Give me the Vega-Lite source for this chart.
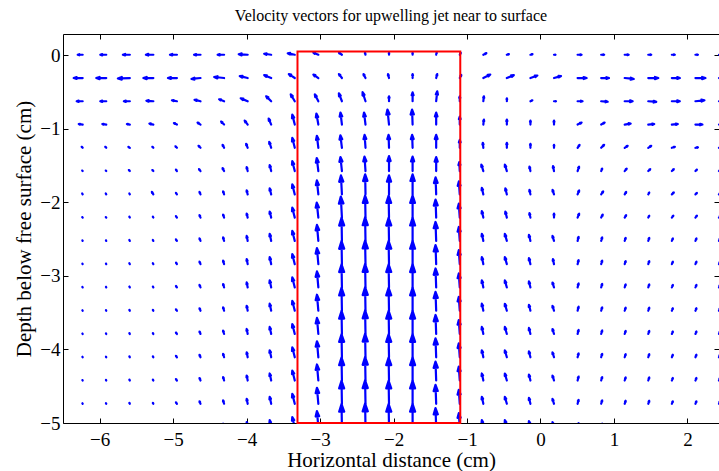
{
"$schema":"https://vega.github.io/schema/vega-lite/v6.json",
"width":656,"height":389,
"autosize":{"type":"none"},
"padding":{"left":63,"top":34,"right":0,"bottom":48},
"background":"white",
"title":{"text":"Velocity vectors for upwelling jet near to surface","font":"Liberation Serif","fontSize":16,"fontWeight":"normal","color":"black","offset":10,"anchor":"middle"},
"config":{"view":{"stroke":null},"axis":{"grid":false,"domainColor":"black","tickColor":"black","labelColor":"black","titleColor":"black","labelFont":"Liberation Serif","titleFont":"Liberation Serif","titleFontWeight":"normal","domainWidth":1,"tickWidth":1}},
"datasets":{
"box":[{"x1":-3.308,"x2":-1.092,"y1":-5,"y2":0.054}],
"vec":[
{"x":-6.232,"y":0.01,"dir":-90,"spd":0.05},{"x":-5.911,"y":0.01,"dir":-90,"spd":0.06},{"x":-5.59,"y":0.01,"dir":-90,"spd":0.07},{"x":-5.27,"y":0.01,"dir":-90,"spd":0.075},{"x":-4.949,"y":0.01,"dir":-90,"spd":0.07},{"x":-4.628,"y":0.01,"dir":-90,"spd":0.065},{"x":-4.307,"y":0.01,"dir":-90,"spd":0.065},{"x":-3.986,"y":0.01,"dir":-87,"spd":0.09},{"x":-3.666,"y":0.01,"dir":-82,"spd":0.071},{"x":-3.345,"y":0.01,"dir":-78,"spd":0.072},{"x":-3.024,"y":0.01,"dir":-68,"spd":0.054},{"x":-2.703,"y":0.01,"dir":-56,"spd":0.036},{"x":-2.382,"y":0.01,"dir":-14,"spd":0.021},{"x":-2.062,"y":0.01,"dir":0,"spd":0.02},{"x":-1.741,"y":0.01,"dir":0,"spd":0.02},{"x":-1.42,"y":0.01,"dir":14,"spd":0.021},{"x":-1.099,"y":0.01,"dir":27,"spd":0.022},{"x":-0.778,"y":0.01,"dir":63,"spd":0.034},{"x":-0.458,"y":0.01,"dir":76,"spd":0.021},{"x":-0.137,"y":0.01,"dir":76,"spd":0.021},{"x":0.184,"y":0.01,"dir":90,"spd":0.015},{"x":0.505,"y":0.01,"dir":90,"spd":0.04},{"x":0.826,"y":0.01,"dir":90,"spd":0.03},{"x":1.146,"y":0.01,"dir":90,"spd":0.04},{"x":1.467,"y":0.01,"dir":90,"spd":0.03},{"x":1.788,"y":0.01,"dir":90,"spd":0.03},{"x":2.109,"y":0.01,"dir":90,"spd":0.025},{"x":2.43,"y":0.01,"dir":90,"spd":0.03},
{"x":-6.232,"y":-0.307,"dir":-90,"spd":0.09},{"x":-5.911,"y":-0.307,"dir":-90,"spd":0.1},{"x":-5.59,"y":-0.307,"dir":-92,"spd":0.12},{"x":-5.27,"y":-0.307,"dir":-90,"spd":0.1},{"x":-4.949,"y":-0.307,"dir":-90,"spd":0.09},{"x":-4.628,"y":-0.307,"dir":-96,"spd":0.091},{"x":-4.307,"y":-0.307,"dir":-84,"spd":0.1},{"x":-3.986,"y":-0.307,"dir":-76,"spd":0.082},{"x":-3.666,"y":-0.307,"dir":-67,"spd":0.076},{"x":-3.345,"y":-0.307,"dir":-56,"spd":0.072},{"x":-3.024,"y":-0.307,"dir":-55,"spd":0.061},{"x":-2.703,"y":-0.307,"dir":-37,"spd":0.05},{"x":-2.382,"y":-0.307,"dir":-27,"spd":0.045},{"x":-2.062,"y":-0.307,"dir":-14,"spd":0.041},{"x":-1.741,"y":-0.307,"dir":0,"spd":0.04},{"x":-1.42,"y":-0.307,"dir":14,"spd":0.041},{"x":-1.099,"y":-0.307,"dir":27,"spd":0.034},{"x":-0.778,"y":-0.307,"dir":63,"spd":0.078},{"x":-0.458,"y":-0.307,"dir":67,"spd":0.076},{"x":-0.137,"y":-0.307,"dir":70,"spd":0.074},{"x":0.184,"y":-0.307,"dir":74,"spd":0.073},{"x":0.505,"y":-0.307,"dir":90,"spd":0.09},{"x":0.826,"y":-0.307,"dir":90,"spd":0.078},{"x":1.146,"y":-0.307,"dir":96,"spd":0.091},{"x":1.467,"y":-0.307,"dir":90,"spd":0.1},{"x":1.788,"y":-0.307,"dir":90,"spd":0.08},{"x":2.109,"y":-0.307,"dir":90,"spd":0.1},{"x":2.43,"y":-0.307,"dir":90,"spd":0.09},
{"x":-6.232,"y":-0.623,"dir":-90,"spd":0.06},{"x":-5.911,"y":-0.623,"dir":-90,"spd":0.06},{"x":-5.59,"y":-0.623,"dir":-90,"spd":0.06},{"x":-5.27,"y":-0.623,"dir":-86,"spd":0.07},{"x":-4.949,"y":-0.623,"dir":-79,"spd":0.051},{"x":-4.628,"y":-0.623,"dir":-76,"spd":0.062},{"x":-4.307,"y":-0.623,"dir":-68,"spd":0.054},{"x":-3.986,"y":-0.623,"dir":-67,"spd":0.076},{"x":-3.666,"y":-0.623,"dir":-45,"spd":0.071},{"x":-3.345,"y":-0.623,"dir":-30,"spd":0.081},{"x":-3.024,"y":-0.623,"dir":-27,"spd":0.078},{"x":-2.703,"y":-0.623,"dir":-21,"spd":0.085},{"x":-2.382,"y":-0.623,"dir":-18,"spd":0.095},{"x":-2.062,"y":-0.623,"dir":0,"spd":0.05},{"x":-1.741,"y":-0.623,"dir":0,"spd":0.09},{"x":-1.42,"y":-0.623,"dir":6,"spd":0.1},{"x":-1.099,"y":-0.623,"dir":0,"spd":0.05},{"x":-0.778,"y":-0.623,"dir":6,"spd":0.05},{"x":-0.458,"y":-0.623,"dir":0,"spd":0.03},{"x":-0.137,"y":-0.623,"dir":63,"spd":0.022},{"x":0.184,"y":-0.623,"dir":90,"spd":0.02},{"x":0.505,"y":-0.623,"dir":90,"spd":0.05},{"x":0.826,"y":-0.623,"dir":94,"spd":0.065},{"x":1.146,"y":-0.623,"dir":90,"spd":0.08},{"x":1.467,"y":-0.623,"dir":94,"spd":0.08},{"x":1.788,"y":-0.623,"dir":90,"spd":0.08},{"x":2.109,"y":-0.623,"dir":84,"spd":0.091},{"x":2.43,"y":-0.623,"dir":90,"spd":0.07},
{"x":-6.232,"y":-0.94,"dir":-83,"spd":0.04},{"x":-5.911,"y":-0.94,"dir":-83,"spd":0.04},{"x":-5.59,"y":-0.94,"dir":-80,"spd":0.03},{"x":-5.27,"y":-0.94,"dir":-76,"spd":0.041},{"x":-4.949,"y":-0.94,"dir":-63,"spd":0.034},{"x":-4.628,"y":-0.94,"dir":-56,"spd":0.036},{"x":-4.307,"y":-0.94,"dir":-45,"spd":0.042},{"x":-3.986,"y":-0.94,"dir":-37,"spd":0.05},{"x":-3.666,"y":-0.94,"dir":-23,"spd":0.065},{"x":-3.345,"y":-0.94,"dir":-14,"spd":0.103},{"x":-3.024,"y":-0.94,"dir":-10,"spd":0.112},{"x":-2.703,"y":-0.94,"dir":-7,"spd":0.121},{"x":-2.382,"y":-0.94,"dir":-7,"spd":0.121},{"x":-2.062,"y":-0.94,"dir":-6,"spd":0.151},{"x":-1.741,"y":-0.94,"dir":-2,"spd":0.15},{"x":-1.42,"y":-0.94,"dir":0,"spd":0.12},{"x":-1.099,"y":-0.94,"dir":0,"spd":0.08},{"x":-0.778,"y":-0.94,"dir":6,"spd":0.05},{"x":-0.458,"y":-0.94,"dir":0,"spd":0.05},{"x":-0.137,"y":-0.94,"dir":0,"spd":0.04},{"x":0.184,"y":-0.94,"dir":0,"spd":0.04},{"x":0.505,"y":-0.94,"dir":63,"spd":0.045},{"x":0.826,"y":-0.94,"dir":60,"spd":0.04},{"x":1.146,"y":-0.94,"dir":80,"spd":0.061},{"x":1.467,"y":-0.94,"dir":85,"spd":0.06},{"x":1.788,"y":-0.94,"dir":85,"spd":0.06},{"x":2.109,"y":-0.94,"dir":90,"spd":0.07},{"x":2.43,"y":-0.94,"dir":90,"spd":0.05},
{"x":-6.232,"y":-1.256,"dir":-45,"spd":0.014},{"x":-5.911,"y":-1.256,"dir":-45,"spd":0.014},{"x":-5.59,"y":-1.256,"dir":-56,"spd":0.018},{"x":-5.27,"y":-1.256,"dir":-45,"spd":0.014},{"x":-4.949,"y":-1.256,"dir":-45,"spd":0.021},{"x":-4.628,"y":-1.256,"dir":-45,"spd":0.028},{"x":-4.307,"y":-1.256,"dir":-27,"spd":0.034},{"x":-3.986,"y":-1.256,"dir":-21,"spd":0.043},{"x":-3.666,"y":-1.256,"dir":-18,"spd":0.063},{"x":-3.345,"y":-1.256,"dir":-14,"spd":0.103},{"x":-3.024,"y":-1.256,"dir":-7,"spd":0.121},{"x":-2.703,"y":-1.256,"dir":-7,"spd":0.126},{"x":-2.382,"y":-1.256,"dir":-4,"spd":0.13},{"x":-2.062,"y":-1.256,"dir":-2,"spd":0.13},{"x":-1.741,"y":-1.256,"dir":-2,"spd":0.13},{"x":-1.42,"y":-1.256,"dir":0,"spd":0.13},{"x":-1.099,"y":-1.256,"dir":0,"spd":0.08},{"x":-0.778,"y":-1.256,"dir":-6,"spd":0.05},{"x":-0.458,"y":-1.256,"dir":0,"spd":0.05},{"x":-0.137,"y":-1.256,"dir":0,"spd":0.04},{"x":0.184,"y":-1.256,"dir":0,"spd":0.03},{"x":0.505,"y":-1.256,"dir":34,"spd":0.036},{"x":0.826,"y":-1.256,"dir":45,"spd":0.042},{"x":1.146,"y":-1.256,"dir":56,"spd":0.036},{"x":1.467,"y":-1.256,"dir":56,"spd":0.036},{"x":1.788,"y":-1.256,"dir":72,"spd":0.032},{"x":2.109,"y":-1.256,"dir":79,"spd":0.026},{"x":2.43,"y":-1.256,"dir":72,"spd":0.032},
{"x":-6.232,"y":-1.573,"dir":-45,"spd":0.007},{"x":-5.911,"y":-1.573,"dir":-45,"spd":0.007},{"x":-5.59,"y":-1.573,"dir":-45,"spd":0.014},{"x":-5.27,"y":-1.573,"dir":-45,"spd":0.014},{"x":-4.949,"y":-1.573,"dir":-34,"spd":0.018},{"x":-4.628,"y":-1.573,"dir":-37,"spd":0.025},{"x":-4.307,"y":-1.573,"dir":-27,"spd":0.034},{"x":-3.986,"y":-1.573,"dir":-14,"spd":0.041},{"x":-3.666,"y":-1.573,"dir":-14,"spd":0.062},{"x":-3.345,"y":-1.573,"dir":-14,"spd":0.103},{"x":-3.024,"y":-1.573,"dir":-7,"spd":0.131},{"x":-2.703,"y":-1.573,"dir":-6,"spd":0.141},{"x":-2.382,"y":-1.573,"dir":-4,"spd":0.145},{"x":-2.062,"y":-1.573,"dir":0,"spd":0.15},{"x":-1.741,"y":-1.573,"dir":0,"spd":0.145},{"x":-1.42,"y":-1.573,"dir":0,"spd":0.14},{"x":-1.099,"y":-1.573,"dir":-3,"spd":0.09},{"x":-0.778,"y":-1.573,"dir":-17,"spd":0.068},{"x":-0.458,"y":-1.573,"dir":-17,"spd":0.068},{"x":-0.137,"y":-1.573,"dir":-12,"spd":0.046},{"x":0.184,"y":-1.573,"dir":-11,"spd":0.051},{"x":0.505,"y":-1.573,"dir":18,"spd":0.047},{"x":0.826,"y":-1.573,"dir":22,"spd":0.027},{"x":1.146,"y":-1.573,"dir":39,"spd":0.032},{"x":1.467,"y":-1.573,"dir":45,"spd":0.028},{"x":1.788,"y":-1.573,"dir":45,"spd":0.028},{"x":2.109,"y":-1.573,"dir":45,"spd":0.021},{"x":2.43,"y":-1.573,"dir":45,"spd":0.021},
{"x":-6.232,"y":-1.89,"dir":-27,"spd":0.011},{"x":-5.911,"y":-1.89,"dir":-27,"spd":0.011},{"x":-5.59,"y":-1.89,"dir":-27,"spd":0.011},{"x":-5.27,"y":-1.89,"dir":-31,"spd":0.029},{"x":-4.949,"y":-1.89,"dir":-34,"spd":0.018},{"x":-4.628,"y":-1.89,"dir":-22,"spd":0.027},{"x":-4.307,"y":-1.89,"dir":-18,"spd":0.032},{"x":-3.986,"y":-1.89,"dir":-14,"spd":0.041},{"x":-3.666,"y":-1.89,"dir":-14,"spd":0.062},{"x":-3.345,"y":-1.89,"dir":-14,"spd":0.103},{"x":-3.024,"y":-1.89,"dir":-6,"spd":0.141},{"x":-2.703,"y":-1.89,"dir":-3,"spd":0.19},{"x":-2.382,"y":-1.89,"dir":-1,"spd":0.2},{"x":-2.062,"y":-1.89,"dir":0,"spd":0.19},{"x":-1.741,"y":-1.89,"dir":0,"spd":0.2},{"x":-1.42,"y":-1.89,"dir":-2,"spd":0.17},{"x":-1.099,"y":-1.89,"dir":-4,"spd":0.13},{"x":-0.778,"y":-1.89,"dir":-13,"spd":0.067},{"x":-0.458,"y":-1.89,"dir":-14,"spd":0.062},{"x":-0.137,"y":-1.89,"dir":-12,"spd":0.046},{"x":0.184,"y":-1.89,"dir":-18,"spd":0.047},{"x":0.505,"y":-1.89,"dir":21,"spd":0.043},{"x":0.826,"y":-1.89,"dir":34,"spd":0.036},{"x":1.146,"y":-1.89,"dir":31,"spd":0.029},{"x":1.467,"y":-1.89,"dir":27,"spd":0.022},{"x":1.788,"y":-1.89,"dir":45,"spd":0.028},{"x":2.109,"y":-1.89,"dir":45,"spd":0.021},{"x":2.43,"y":-1.89,"dir":45,"spd":0.021},
{"x":-6.232,"y":-2.206,"dir":-45,"spd":0.007},{"x":-5.911,"y":-2.206,"dir":-45,"spd":0.007},{"x":-5.59,"y":-2.206,"dir":-27,"spd":0.011},{"x":-5.27,"y":-2.206,"dir":-27,"spd":0.011},{"x":-4.949,"y":-2.206,"dir":-34,"spd":0.018},{"x":-4.628,"y":-2.206,"dir":-22,"spd":0.027},{"x":-4.307,"y":-2.206,"dir":-18,"spd":0.032},{"x":-3.986,"y":-2.206,"dir":-14,"spd":0.041},{"x":-3.666,"y":-2.206,"dir":-14,"spd":0.062},{"x":-3.345,"y":-2.206,"dir":-14,"spd":0.103},{"x":-3.024,"y":-2.206,"dir":-6,"spd":0.151},{"x":-2.703,"y":-2.206,"dir":-3,"spd":0.21},{"x":-2.382,"y":-2.206,"dir":-1,"spd":0.22},{"x":-2.062,"y":-2.206,"dir":-1,"spd":0.22},{"x":-1.741,"y":-2.206,"dir":0,"spd":0.22},{"x":-1.42,"y":-2.206,"dir":-2,"spd":0.18},{"x":-1.099,"y":-2.206,"dir":-4,"spd":0.14},{"x":-0.778,"y":-2.206,"dir":-13,"spd":0.067},{"x":-0.458,"y":-2.206,"dir":-14,"spd":0.062},{"x":-0.137,"y":-2.206,"dir":-12,"spd":0.046},{"x":0.184,"y":-2.206,"dir":0,"spd":0.04},{"x":0.505,"y":-2.206,"dir":21,"spd":0.043},{"x":0.826,"y":-2.206,"dir":27,"spd":0.034},{"x":1.146,"y":-2.206,"dir":31,"spd":0.029},{"x":1.467,"y":-2.206,"dir":27,"spd":0.022},{"x":1.788,"y":-2.206,"dir":37,"spd":0.025},{"x":2.109,"y":-2.206,"dir":37,"spd":0.025},{"x":2.43,"y":-2.206,"dir":37,"spd":0.025},
{"x":-6.232,"y":-2.523,"dir":-31,"spd":0.006},{"x":-5.911,"y":-2.523,"dir":-27,"spd":0.007},{"x":-5.59,"y":-2.523,"dir":-27,"spd":0.011},{"x":-5.27,"y":-2.523,"dir":-27,"spd":0.011},{"x":-4.949,"y":-2.523,"dir":-34,"spd":0.018},{"x":-4.628,"y":-2.523,"dir":-22,"spd":0.027},{"x":-4.307,"y":-2.523,"dir":-16,"spd":0.036},{"x":-3.986,"y":-2.523,"dir":-11,"spd":0.051},{"x":-3.666,"y":-2.523,"dir":-12,"spd":0.072},{"x":-3.345,"y":-2.523,"dir":-14,"spd":0.103},{"x":-3.024,"y":-2.523,"dir":-5,"spd":0.161},{"x":-2.703,"y":-2.523,"dir":-1,"spd":0.23},{"x":-2.382,"y":-2.523,"dir":-1,"spd":0.235},{"x":-2.062,"y":-2.523,"dir":-1,"spd":0.23},{"x":-1.741,"y":-2.523,"dir":0,"spd":0.23},{"x":-1.42,"y":-2.523,"dir":-2,"spd":0.19},{"x":-1.099,"y":-2.523,"dir":-4,"spd":0.14},{"x":-0.778,"y":-2.523,"dir":-12,"spd":0.072},{"x":-0.458,"y":-2.523,"dir":-16,"spd":0.073},{"x":-0.137,"y":-2.523,"dir":-14,"spd":0.062},{"x":0.184,"y":-2.523,"dir":-17,"spd":0.052},{"x":0.505,"y":-2.523,"dir":14,"spd":0.041},{"x":0.826,"y":-2.523,"dir":16,"spd":0.036},{"x":1.146,"y":-2.523,"dir":18,"spd":0.032},{"x":1.467,"y":-2.523,"dir":18,"spd":0.032},{"x":1.788,"y":-2.523,"dir":22,"spd":0.027},{"x":2.109,"y":-2.523,"dir":22,"spd":0.027},{"x":2.43,"y":-2.523,"dir":22,"spd":0.027},
{"x":-6.232,"y":-2.839,"dir":-31,"spd":0.006},{"x":-5.911,"y":-2.839,"dir":-27,"spd":0.007},{"x":-5.59,"y":-2.839,"dir":-27,"spd":0.011},{"x":-5.27,"y":-2.839,"dir":-27,"spd":0.011},{"x":-4.949,"y":-2.839,"dir":-30,"spd":0.018},{"x":-4.628,"y":-2.839,"dir":-22,"spd":0.027},{"x":-4.307,"y":-2.839,"dir":-16,"spd":0.036},{"x":-3.986,"y":-2.839,"dir":-11,"spd":0.051},{"x":-3.666,"y":-2.839,"dir":-12,"spd":0.072},{"x":-3.345,"y":-2.839,"dir":-14,"spd":0.103},{"x":-3.024,"y":-2.839,"dir":-5,"spd":0.161},{"x":-2.703,"y":-2.839,"dir":-1,"spd":0.23},{"x":-2.382,"y":-2.839,"dir":-1,"spd":0.235},{"x":-2.062,"y":-2.839,"dir":-1,"spd":0.23},{"x":-1.741,"y":-2.839,"dir":0,"spd":0.23},{"x":-1.42,"y":-2.839,"dir":-2,"spd":0.19},{"x":-1.099,"y":-2.839,"dir":-4,"spd":0.14},{"x":-0.778,"y":-2.839,"dir":-12,"spd":0.072},{"x":-0.458,"y":-2.839,"dir":-16,"spd":0.073},{"x":-0.137,"y":-2.839,"dir":-14,"spd":0.062},{"x":0.184,"y":-2.839,"dir":-12,"spd":0.052},{"x":0.505,"y":-2.839,"dir":14,"spd":0.041},{"x":0.826,"y":-2.839,"dir":16,"spd":0.036},{"x":1.146,"y":-2.839,"dir":18,"spd":0.032},{"x":1.467,"y":-2.839,"dir":18,"spd":0.032},{"x":1.788,"y":-2.839,"dir":22,"spd":0.027},{"x":2.109,"y":-2.839,"dir":22,"spd":0.027},{"x":2.43,"y":-2.839,"dir":22,"spd":0.027},
{"x":-6.232,"y":-3.156,"dir":-31,"spd":0.006},{"x":-5.911,"y":-3.156,"dir":-27,"spd":0.007},{"x":-5.59,"y":-3.156,"dir":-27,"spd":0.011},{"x":-5.27,"y":-3.156,"dir":-27,"spd":0.011},{"x":-4.949,"y":-3.156,"dir":-34,"spd":0.018},{"x":-4.628,"y":-3.156,"dir":-22,"spd":0.027},{"x":-4.307,"y":-3.156,"dir":-16,"spd":0.036},{"x":-3.986,"y":-3.156,"dir":-11,"spd":0.051},{"x":-3.666,"y":-3.156,"dir":-12,"spd":0.072},{"x":-3.345,"y":-3.156,"dir":-14,"spd":0.103},{"x":-3.024,"y":-3.156,"dir":-5,"spd":0.161},{"x":-2.703,"y":-3.156,"dir":-1,"spd":0.23},{"x":-2.382,"y":-3.156,"dir":-1,"spd":0.233},{"x":-2.062,"y":-3.156,"dir":-1,"spd":0.23},{"x":-1.741,"y":-3.156,"dir":0,"spd":0.23},{"x":-1.42,"y":-3.156,"dir":-2,"spd":0.19},{"x":-1.099,"y":-3.156,"dir":-4,"spd":0.14},{"x":-0.778,"y":-3.156,"dir":-12,"spd":0.072},{"x":-0.458,"y":-3.156,"dir":-16,"spd":0.073},{"x":-0.137,"y":-3.156,"dir":-14,"spd":0.062},{"x":0.184,"y":-3.156,"dir":-17,"spd":0.052},{"x":0.505,"y":-3.156,"dir":14,"spd":0.041},{"x":0.826,"y":-3.156,"dir":16,"spd":0.036},{"x":1.146,"y":-3.156,"dir":18,"spd":0.032},{"x":1.467,"y":-3.156,"dir":18,"spd":0.032},{"x":1.788,"y":-3.156,"dir":22,"spd":0.027},{"x":2.109,"y":-3.156,"dir":22,"spd":0.027},{"x":2.43,"y":-3.156,"dir":22,"spd":0.027},
{"x":-6.232,"y":-3.473,"dir":-31,"spd":0.006},{"x":-5.911,"y":-3.473,"dir":-27,"spd":0.007},{"x":-5.59,"y":-3.473,"dir":-27,"spd":0.011},{"x":-5.27,"y":-3.473,"dir":-27,"spd":0.011},{"x":-4.949,"y":-3.473,"dir":-34,"spd":0.018},{"x":-4.628,"y":-3.473,"dir":-22,"spd":0.027},{"x":-4.307,"y":-3.473,"dir":-16,"spd":0.036},{"x":-3.986,"y":-3.473,"dir":-11,"spd":0.051},{"x":-3.666,"y":-3.473,"dir":-12,"spd":0.072},{"x":-3.345,"y":-3.473,"dir":-14,"spd":0.103},{"x":-3.024,"y":-3.473,"dir":-5,"spd":0.161},{"x":-2.703,"y":-3.473,"dir":-1,"spd":0.23},{"x":-2.382,"y":-3.473,"dir":-1,"spd":0.235},{"x":-2.062,"y":-3.473,"dir":-1,"spd":0.23},{"x":-1.741,"y":-3.473,"dir":0,"spd":0.23},{"x":-1.42,"y":-3.473,"dir":-2,"spd":0.19},{"x":-1.099,"y":-3.473,"dir":-4,"spd":0.14},{"x":-0.778,"y":-3.473,"dir":-12,"spd":0.072},{"x":-0.458,"y":-3.473,"dir":-16,"spd":0.073},{"x":-0.137,"y":-3.473,"dir":-14,"spd":0.062},{"x":0.184,"y":-3.473,"dir":-17,"spd":0.052},{"x":0.505,"y":-3.473,"dir":14,"spd":0.041},{"x":0.826,"y":-3.473,"dir":16,"spd":0.036},{"x":1.146,"y":-3.473,"dir":18,"spd":0.032},{"x":1.467,"y":-3.473,"dir":18,"spd":0.032},{"x":1.788,"y":-3.473,"dir":22,"spd":0.027},{"x":2.109,"y":-3.473,"dir":22,"spd":0.027},{"x":2.43,"y":-3.473,"dir":22,"spd":0.027},
{"x":-6.232,"y":-3.789,"dir":-31,"spd":0.006},{"x":-5.911,"y":-3.789,"dir":-27,"spd":0.007},{"x":-5.59,"y":-3.789,"dir":-27,"spd":0.011},{"x":-5.27,"y":-3.789,"dir":-27,"spd":0.011},{"x":-4.949,"y":-3.789,"dir":-34,"spd":0.018},{"x":-4.628,"y":-3.789,"dir":-22,"spd":0.027},{"x":-4.307,"y":-3.789,"dir":-16,"spd":0.036},{"x":-3.986,"y":-3.789,"dir":-11,"spd":0.051},{"x":-3.666,"y":-3.789,"dir":-12,"spd":0.072},{"x":-3.345,"y":-3.789,"dir":-14,"spd":0.103},{"x":-3.024,"y":-3.789,"dir":-5,"spd":0.161},{"x":-2.703,"y":-3.789,"dir":-1,"spd":0.23},{"x":-2.382,"y":-3.789,"dir":-1,"spd":0.235},{"x":-2.062,"y":-3.789,"dir":-1,"spd":0.23},{"x":-1.741,"y":-3.789,"dir":0,"spd":0.23},{"x":-1.42,"y":-3.789,"dir":-2,"spd":0.19},{"x":-1.099,"y":-3.789,"dir":-4,"spd":0.14},{"x":-0.778,"y":-3.789,"dir":-12,"spd":0.072},{"x":-0.458,"y":-3.789,"dir":-16,"spd":0.073},{"x":-0.137,"y":-3.789,"dir":-14,"spd":0.062},{"x":0.184,"y":-3.789,"dir":-17,"spd":0.052},{"x":0.505,"y":-3.789,"dir":14,"spd":0.041},{"x":0.826,"y":-3.789,"dir":16,"spd":0.036},{"x":1.146,"y":-3.789,"dir":18,"spd":0.032},{"x":1.467,"y":-3.789,"dir":18,"spd":0.032},{"x":1.788,"y":-3.789,"dir":22,"spd":0.027},{"x":2.109,"y":-3.789,"dir":22,"spd":0.027},{"x":2.43,"y":-3.789,"dir":22,"spd":0.027},
{"x":-6.232,"y":-4.106,"dir":-31,"spd":0.006},{"x":-5.911,"y":-4.106,"dir":-27,"spd":0.007},{"x":-5.59,"y":-4.106,"dir":-27,"spd":0.011},{"x":-5.27,"y":-4.106,"dir":-27,"spd":0.011},{"x":-4.949,"y":-4.106,"dir":-34,"spd":0.018},{"x":-4.628,"y":-4.106,"dir":-22,"spd":0.027},{"x":-4.307,"y":-4.106,"dir":-16,"spd":0.036},{"x":-3.986,"y":-4.106,"dir":-11,"spd":0.051},{"x":-3.666,"y":-4.106,"dir":-12,"spd":0.072},{"x":-3.345,"y":-4.106,"dir":-14,"spd":0.103},{"x":-3.024,"y":-4.106,"dir":-5,"spd":0.161},{"x":-2.703,"y":-4.106,"dir":-1,"spd":0.23},{"x":-2.382,"y":-4.106,"dir":-1,"spd":0.235},{"x":-2.062,"y":-4.106,"dir":-1,"spd":0.23},{"x":-1.741,"y":-4.106,"dir":0,"spd":0.23},{"x":-1.42,"y":-4.106,"dir":-2,"spd":0.19},{"x":-1.099,"y":-4.106,"dir":-4,"spd":0.14},{"x":-0.778,"y":-4.106,"dir":-12,"spd":0.072},{"x":-0.458,"y":-4.106,"dir":-16,"spd":0.073},{"x":-0.137,"y":-4.106,"dir":-14,"spd":0.062},{"x":0.184,"y":-4.106,"dir":-17,"spd":0.052},{"x":0.505,"y":-4.106,"dir":14,"spd":0.041},{"x":0.826,"y":-4.106,"dir":16,"spd":0.036},{"x":1.146,"y":-4.106,"dir":18,"spd":0.032},{"x":1.467,"y":-4.106,"dir":18,"spd":0.032},{"x":1.788,"y":-4.106,"dir":22,"spd":0.027},{"x":2.109,"y":-4.106,"dir":22,"spd":0.027},{"x":2.43,"y":-4.106,"dir":22,"spd":0.027},
{"x":-6.232,"y":-4.422,"dir":-31,"spd":0.006},{"x":-5.911,"y":-4.422,"dir":-27,"spd":0.007},{"x":-5.59,"y":-4.422,"dir":-27,"spd":0.011},{"x":-5.27,"y":-4.422,"dir":-27,"spd":0.011},{"x":-4.949,"y":-4.422,"dir":-34,"spd":0.018},{"x":-4.628,"y":-4.422,"dir":-22,"spd":0.027},{"x":-4.307,"y":-4.422,"dir":-16,"spd":0.036},{"x":-3.986,"y":-4.422,"dir":-11,"spd":0.051},{"x":-3.666,"y":-4.422,"dir":-12,"spd":0.072},{"x":-3.345,"y":-4.422,"dir":-14,"spd":0.103},{"x":-3.024,"y":-4.422,"dir":-5,"spd":0.161},{"x":-2.703,"y":-4.422,"dir":-1,"spd":0.23},{"x":-2.382,"y":-4.422,"dir":-1,"spd":0.235},{"x":-2.062,"y":-4.422,"dir":-1,"spd":0.23},{"x":-1.741,"y":-4.422,"dir":0,"spd":0.23},{"x":-1.42,"y":-4.422,"dir":-2,"spd":0.19},{"x":-1.099,"y":-4.422,"dir":-4,"spd":0.14},{"x":-0.778,"y":-4.422,"dir":-12,"spd":0.072},{"x":-0.458,"y":-4.422,"dir":-16,"spd":0.073},{"x":-0.137,"y":-4.422,"dir":-14,"spd":0.062},{"x":0.184,"y":-4.422,"dir":-17,"spd":0.052},{"x":0.505,"y":-4.422,"dir":14,"spd":0.041},{"x":0.826,"y":-4.422,"dir":16,"spd":0.036},{"x":1.146,"y":-4.422,"dir":18,"spd":0.032},{"x":1.467,"y":-4.422,"dir":18,"spd":0.032},{"x":1.788,"y":-4.422,"dir":22,"spd":0.027},{"x":2.109,"y":-4.422,"dir":22,"spd":0.027},{"x":2.43,"y":-4.422,"dir":22,"spd":0.027},
{"x":-6.232,"y":-4.739,"dir":-31,"spd":0.006},{"x":-5.911,"y":-4.739,"dir":-27,"spd":0.007},{"x":-5.59,"y":-4.739,"dir":-27,"spd":0.011},{"x":-5.27,"y":-4.739,"dir":-27,"spd":0.011},{"x":-4.949,"y":-4.739,"dir":-34,"spd":0.018},{"x":-4.628,"y":-4.739,"dir":-22,"spd":0.027},{"x":-4.307,"y":-4.739,"dir":-16,"spd":0.036},{"x":-3.986,"y":-4.739,"dir":-11,"spd":0.051},{"x":-3.666,"y":-4.739,"dir":-12,"spd":0.072},{"x":-3.345,"y":-4.739,"dir":-14,"spd":0.103},{"x":-3.024,"y":-4.739,"dir":-5,"spd":0.161},{"x":-2.703,"y":-4.739,"dir":-1,"spd":0.23},{"x":-2.382,"y":-4.739,"dir":-1,"spd":0.235},{"x":-2.062,"y":-4.739,"dir":-1,"spd":0.23},{"x":-1.741,"y":-4.739,"dir":0,"spd":0.23},{"x":-1.42,"y":-4.739,"dir":-2,"spd":0.19},{"x":-1.099,"y":-4.739,"dir":-4,"spd":0.14},{"x":-0.778,"y":-4.739,"dir":-12,"spd":0.072},{"x":-0.458,"y":-4.739,"dir":-16,"spd":0.073},{"x":-0.137,"y":-4.739,"dir":-14,"spd":0.062},{"x":0.184,"y":-4.739,"dir":-17,"spd":0.052},{"x":0.505,"y":-4.739,"dir":14,"spd":0.041},{"x":0.826,"y":-4.739,"dir":16,"spd":0.036},{"x":1.146,"y":-4.739,"dir":18,"spd":0.032},{"x":1.467,"y":-4.739,"dir":18,"spd":0.032},{"x":1.788,"y":-4.739,"dir":22,"spd":0.027},{"x":2.109,"y":-4.739,"dir":22,"spd":0.027},{"x":2.43,"y":-4.739,"dir":22,"spd":0.027},
{"x":-4.307,"y":-5.056,"dir":-16,"spd":0.036},{"x":-3.986,"y":-5.056,"dir":-11,"spd":0.051},{"x":-3.666,"y":-5.056,"dir":-12,"spd":0.072},{"x":-3.345,"y":-5.056,"dir":-14,"spd":0.103},{"x":-3.024,"y":-5.056,"dir":-5,"spd":0.161},{"x":-2.703,"y":-5.056,"dir":-1,"spd":0.23},{"x":-2.382,"y":-5.056,"dir":-1,"spd":0.235},{"x":-2.062,"y":-5.056,"dir":-1,"spd":0.23},{"x":-1.741,"y":-5.056,"dir":0,"spd":0.23},{"x":-1.42,"y":-5.056,"dir":-2,"spd":0.19},{"x":-1.099,"y":-5.056,"dir":-4,"spd":0.14},{"x":-0.778,"y":-5.056,"dir":-12,"spd":0.072},{"x":-0.458,"y":-5.056,"dir":-16,"spd":0.073},{"x":-0.137,"y":-5.056,"dir":-14,"spd":0.062},{"x":0.184,"y":-5.056,"dir":-17,"spd":0.052},{"x":0.505,"y":-5.056,"dir":14,"spd":0.041},{"x":0.826,"y":-5.056,"dir":16,"spd":0.036}
]},
"layer":[
{"data":{"name":"vec"},
 "mark":{"type":"point","shape":"M0,0L0,-0.72M-0.11,-0.67L0,-1L0.11,-0.67Z","filled":true,"fill":"#0000ff","stroke":"#0000ff","strokeWidth":2.2,"strokeCap":"round","strokeJoin":"round","opacity":1,"clip":true},
 "encoding":{
  "x":{"field":"x","type":"quantitative","scale":{"domain":[-6.5,2.43],"nice":false,"zero":false},
       "axis":{"orient":"bottom","values":[-6,-5,-4,-3,-2,-1,0,1,2],"format":"d","tickSize":-5,"labelPadding":12,"labelFontSize":19,"labelFlush":false,"labelOverlap":false,"title":"Horizontal distance (cm)","titleFontSize":21,"titlePadding":0}},
  "y":{"field":"y","type":"quantitative","scale":{"domain":[-5,0.292],"nice":false,"zero":false},
       "axis":{"orient":"left","values":[-5,-4,-3,-2,-1,0],"format":"d","tickSize":-5,"labelPadding":8,"labelFontSize":19,"labelFlush":false,"labelOverlap":false,"title":"Depth below free surface (cm)","titleFontSize":21,"titlePadding":5}},
  "angle":{"field":"dir","type":"quantitative","scale":{"domain":[-180,180],"range":[-180,180]},"legend":null},
  "size":{"field":"spd","type":"quantitative","scale":{"type":"pow","exponent":2,"domain":[0,0.235],"range":[0,2209]},"legend":null}
 }},
{"data":{"name":"box"},
 "mark":{"type":"rect","filled":false,"stroke":"#ff0000","strokeWidth":2,"clip":false},
 "encoding":{
  "x":{"field":"x1","type":"quantitative","scale":{"domain":[-6.5,2.43],"nice":false,"zero":false},
       "axis":{"orient":"top","values":[-6,-5,-4,-3,-2,-1,0,1,2],"tickSize":-5,"labels":false,"title":null}},
  "x2":{"field":"x2"},
  "y":{"field":"y1","type":"quantitative","scale":{"domain":[-5,0.292],"nice":false,"zero":false},
       "axis":{"orient":"right","values":[-5,-4,-3,-2,-1,0],"tickSize":-5,"labels":false,"title":null,"domain":false}},
  "y2":{"field":"y2"}
 }}
],
"resolve":{"axis":{"x":"independent","y":"independent"}}
}
